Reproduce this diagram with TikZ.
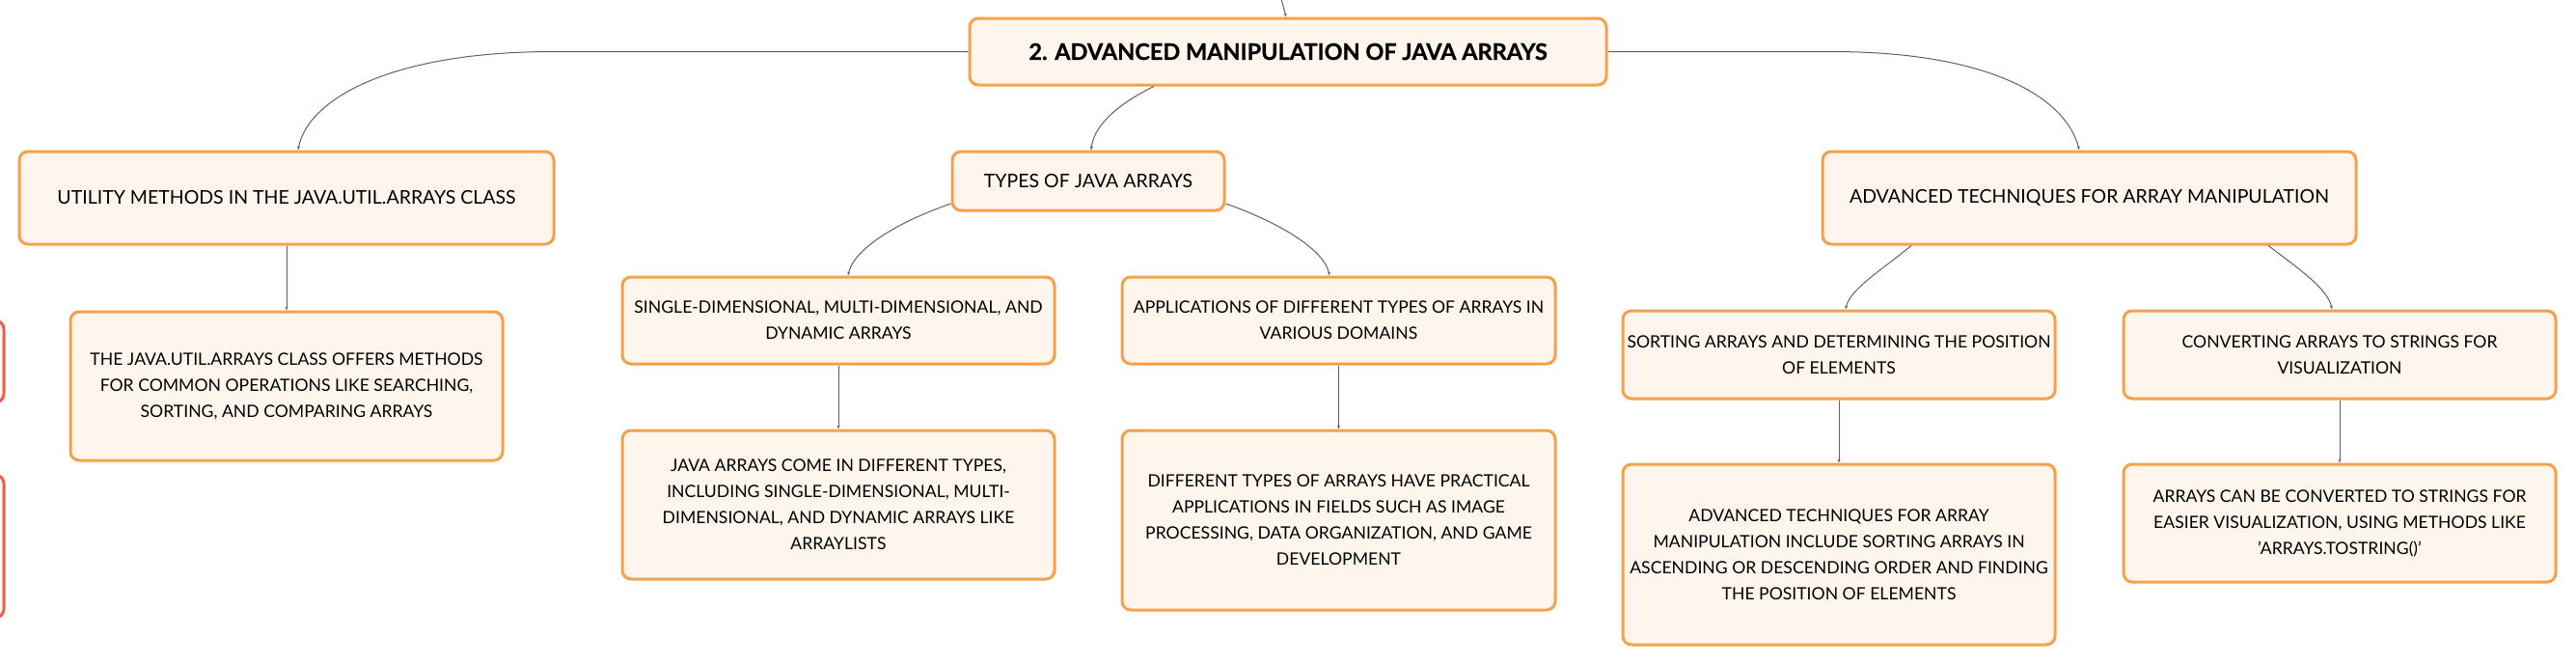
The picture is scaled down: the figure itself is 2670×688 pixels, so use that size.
\documentclass[tikz,border=0pt]{standalone}
\usepackage{fontspec}
\setmainfont{Lato}
\newfontfamily\heavyfont{Lato}[BoldFeatures={FakeBold=0.8}]
\usetikzlibrary{calc,arrows.meta}
\definecolor{boxorange}{HTML}{F5A04B}
\definecolor{boxfill}{HTML}{FEF5EC}
\definecolor{boxred}{HTML}{E8604F}
\definecolor{linegray}{HTML}{606060}
\tikzset{
  box/.style={draw=boxorange, line width=3pt, fill=boxfill, rounded corners=9pt,
    align=center, inner sep=0pt, font=\fontsize{17.6}{27}\selectfont},
  lvlone/.style={box, font=\fontsize{19.5}{28}\selectfont},
  rootbox/.style={box, font=\heavyfont\fontsize{23.5}{28}\selectfont\bfseries},
  redbox/.style={draw=boxred, line width=3pt, fill=boxfill, rounded corners=9pt, inner sep=0pt},
  conn/.style={draw=linegray, line width=1pt, -{Stealth[length=4pt,width=3pt]}}
}
\begin{document}
\begin{tikzpicture}[x=1pt,y=-1pt]
\useasboundingbox (0,0) rectangle (2670,688);

\node[redbox, minimum width=200pt, minimum height=85pt] (redone) at (-96,374.5) {};
\node[redbox, minimum width=200pt, minimum height=148pt] (redtwo) at (-96,566) {};

\node[rootbox, minimum width=660pt, minimum height=69pt] (root) at (1335,53.5) {2. ADVANCED MANIPULATION OF JAVA ARRAYS};

\node[lvlone, minimum width=554pt, minimum height=96pt] (util) at (297,205) {UTILITY METHODS IN THE JAVA.UTIL.ARRAYS CLASS};
\node[lvlone, minimum width=282pt, minimum height=61pt] (types) at (1128,187.5) {TYPES OF JAVA ARRAYS};
\node[lvlone, minimum width=553pt, minimum height=96pt] (adv) at (2165.5,205) {ADVANCED TECHNIQUES FOR ARRAY MANIPULATION};

\node[box, minimum width=448pt, minimum height=154pt] (javautil) at (297,400) {THE JAVA.UTIL.ARRAYS CLASS OFFERS METHODS\\FOR COMMON OPERATIONS LIKE SEARCHING,\\SORTING, AND COMPARING ARRAYS};
\node[box, minimum width=448pt, minimum height=90pt] (single) at (869,332) {SINGLE-DIMENSIONAL, MULTI-DIMENSIONAL, AND\\DYNAMIC ARRAYS};
\node[box, minimum width=449pt, minimum height=90pt] (apps) at (1387.5,332) {APPLICATIONS OF DIFFERENT TYPES OF ARRAYS IN\\VARIOUS DOMAINS};
\node[box, minimum width=448pt, minimum height=154pt] (javacome) at (869,523) {JAVA ARRAYS COME IN DIFFERENT TYPES,\\INCLUDING SINGLE-DIMENSIONAL, MULTI-\\DIMENSIONAL, AND DYNAMIC ARRAYS LIKE\\ARRAYLISTS};
\node[box, minimum width=449pt, minimum height=186pt] (difftypes) at (1387.5,539) {DIFFERENT TYPES OF ARRAYS HAVE PRACTICAL\\APPLICATIONS IN FIELDS SUCH AS IMAGE\\PROCESSING, DATA ORGANIZATION, AND GAME\\DEVELOPMENT};
\node[box, minimum width=448pt, minimum height=91pt] (sorting) at (1906,367.5) {SORTING ARRAYS AND DETERMINING THE POSITION\\OF ELEMENTS};
\node[box, minimum width=448pt, minimum height=91pt] (converting) at (2425,367.5) {CONVERTING ARRAYS TO STRINGS FOR\\VISUALIZATION};
\node[box, minimum width=448pt, minimum height=187pt] (advinc) at (1906,574.5) {ADVANCED TECHNIQUES FOR ARRAY\\MANIPULATION INCLUDE SORTING ARRAYS IN\\ASCENDING OR DESCENDING ORDER AND FINDING\\THE POSITION OF ELEMENTS};
\node[box, minimum width=448pt, minimum height=122pt] (arrays) at (2425,542) {ARRAYS CAN BE CONVERTED TO STRINGS FOR\\EASIER VISUALIZATION, USING METHODS LIKE\\'ARRAYS.TOSTRING()'};

\coordinate (rootparent) at (1327,-5);
\draw[conn] (rootparent) -- ($(root.north)+(-2,0)$);

\draw[conn] (root.west) -- (574,53.5) .. controls (400,53.5) and (318,105) .. ($(util.north)+(12,0)$);
\draw[conn] (root.east) -- (1898,53.5) .. controls (2070,53.5) and (2143,105) .. ($(adv.north)+(-10.5,0)$);
\draw[conn] ($(root.south)+(-139,0)$) .. controls (1150,112) and (1133,135) .. ($(types.north)+(3,0)$);

\draw[conn] ($(types.west)+(0,23.5)$) .. controls (925,232) and (884,260) .. ($(single.north)+(10,0)$);
\draw[conn] ($(types.east)+(0,23.5)$) .. controls (1330,232) and (1373,260) .. ($(apps.north)+(-9.5,0)$);

\draw[conn] ($(adv.south)+(-184.5,0)$) .. controls (1950,280) and (1917,300) .. ($(sorting.north)+(7,0)$);
\draw[conn] ($(adv.south)+(185.5,0)$) .. controls (2385,280) and (2413,300) .. ($(converting.north)+(-8,0)$);

\draw[conn] (util.south) -- (javautil.north);
\draw[conn] (single.south) -- (javacome.north);
\draw[conn] (apps.south) -- (difftypes.north);
\draw[conn] (sorting.south) -- (advinc.north);
\draw[conn] (converting.south) -- (arrays.north);
\end{tikzpicture}
\end{document}
